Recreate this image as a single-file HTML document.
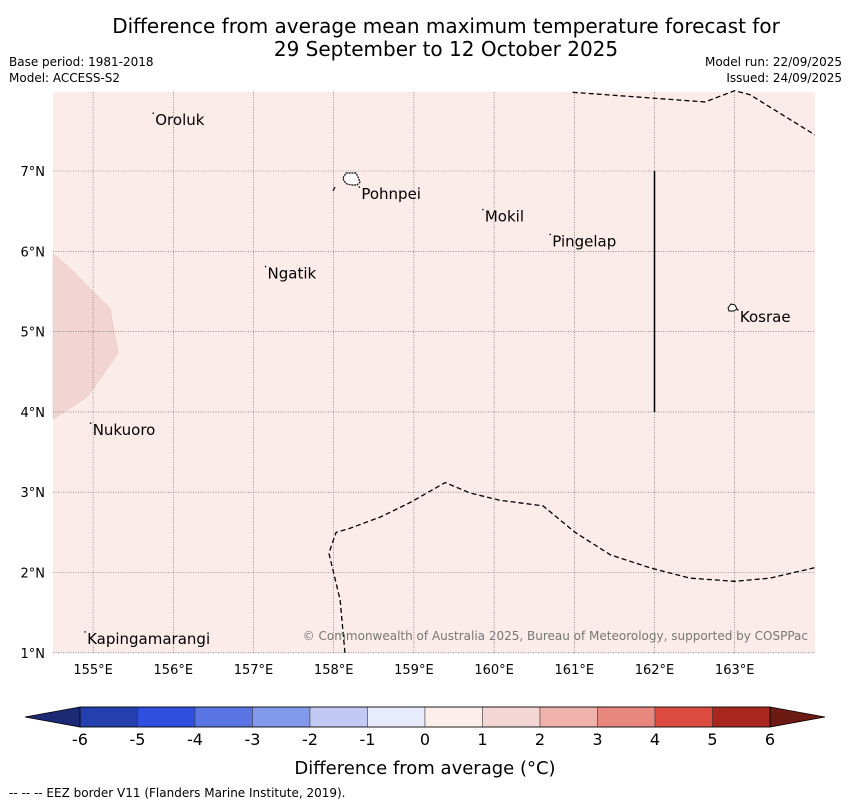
<!DOCTYPE html>
<html><head><meta charset="utf-8"><style>
body{margin:0;background:#fff;font-family:"Liberation Sans","DejaVu Sans",sans-serif}
svg text{font-family:"DejaVu Sans","Liberation Sans",sans-serif}
</style></head><body>
<svg id="s" width="850" height="804" xmlns="http://www.w3.org/2000/svg">
<text x="446" y="33" font-size="20" text-anchor="middle">Difference from average mean maximum temperature forecast for</text>
<text x="446" y="56" font-size="20" text-anchor="middle">29 September to 12 October 2025</text>
<text x="9" y="66" font-size="12">Base period: 1981-2018</text>
<text x="9" y="82" font-size="12">Model: ACCESS-S2</text>
<text x="842" y="66" font-size="12" text-anchor="end">Model run: 22/09/2025</text>
<text x="842" y="82" font-size="12" text-anchor="end">Issued: 24/09/2025</text>
<g id="map"></g>
<g id="cbar"></g>
<text x="425" y="774" font-size="18" text-anchor="middle">Difference from average (°C)</text>
<text x="9" y="797" font-size="12">--  --  -- EEZ border V11 (Flanders Marine Institute, 2019).</text>
</svg>
<script>
const lonTicks=[155,156,157,158,159,160,161,162,163];
const latTicks=[1,2,3,4,5,6,7];
const levels=[-6,-5,-4,-3,-2,-1,0,1,2,3,4,5,6];
const levelColors=['#2440ae','#2f4fdf','#5a74e3','#8399eb','#c2c9f3','#e8ebfb','#fdeeec','#f4d6d4','#efb2ac','#e8877e','#dc4a40','#a82820'];
const islandNames=['Oroluk','Pohnpei','Mokil','Pingelap','Ngatik','Kosrae','Nukuoro','Kapingamarangi'];
const islandLon=[155.75,158.32,159.86,160.7,157.15,163.04,154.97,154.9];
const islandLat=[7.72,6.8,6.52,6.21,5.81,5.27,3.86,1.26];
const eezTopLon=[160.98,162.63,163.0,163.19,164.0];
const eezTopLat=[7.98,7.86,8.0,7.95,7.45];
const eezBotLon=[158.14,158.08,157.94,158.03,158.2,158.58,158.95,159.39,159.7,160.07,160.61,161.01,161.45,161.94,162.44,163.0,163.44,164.0];
const eezBotLat=[1.0,1.66,2.24,2.5,2.55,2.69,2.87,3.12,2.99,2.9,2.83,2.5,2.22,2.06,1.93,1.89,1.93,2.06];
const anomLon=[154.5,154.69,155.21,155.31,154.93,154.5];
const anomLat=[5.97,5.81,5.29,4.73,4.19,3.91];
const NS='http://www.w3.org/2000/svg';
const X=lon=>53+(lon-154.5)*80.2, Y=lat=>171+(7-lat)*80.3;
function mk(p,t,a){const e=document.createElementNS(NS,t);for(const k in a)e.setAttribute(k,a[k]);p.appendChild(e);return e;}
const map=document.getElementById('map');
let e=mk(map,'rect',{x:53,y:92,width:762,height:561,fill:'#fbebe9'});


e=mk(map,'polygon',{points:anomLon.map((l,i)=>X(l)+','+Y(anomLat[i])).join(' '),fill:'#f2d5d3',stroke:'#e3c0bd','stroke-width':0.5});


lonTicks.forEach(l=>{const x=X(l);
 e=mk(map,'line',{x1:x,x2:x,y1:92,y2:653,stroke:'#555','stroke-width':0.6,'stroke-dasharray':'1,1.5'});
 
 
 e=mk(map,'text',{x:x,y:674,'font-size':13,'text-anchor':'middle'});e.textContent=l+'°E';
 
 });
latTicks.forEach(l=>{const y=Y(l);
 e=mk(map,'line',{x1:53,x2:815,y1:y,y2:y,stroke:'#555','stroke-width':0.6,'stroke-dasharray':'1,1.5'});
 
 
 e=mk(map,'text',{x:45,y:y+5,'font-size':13,'text-anchor':'end'});e.textContent=l+'°N';
 
 });
[[eezTopLon,eezTopLat],[eezBotLon,eezBotLat]].forEach(([lo,la])=>{
 e=mk(map,'polyline',{points:lo.map((l,i)=>X(l)+','+Y(la[i])).join(' '),fill:'none',stroke:'#000','stroke-width':1.3,'stroke-dasharray':'5,3'});
 
 });
e=mk(map,'line',{x1:X(162),x2:X(162),y1:Y(7),y2:Y(4),stroke:'#000','stroke-width':1.5});


e=mk(map,'path',{d:'M343,178 l3,-5 l5,0 l5,0 l2,4 l2,5 l-3,3 l-5,0 l-5,-1 l-3,-3 z',fill:'#fff',stroke:'#000','stroke-width':1.2,'stroke-dasharray':'2,0.8'});


e=mk(map,'line',{x1:333,y1:191,x2:335,y2:187,stroke:'#000','stroke-width':1.2});


e=mk(map,'path',{d:'M728,308 l3,-4 l4,1 l2,4 l-3,2 l-5,0 z',fill:'#fff',stroke:'#000','stroke-width':1});


islandNames.forEach((n,i)=>{const x=X(islandLon[i]),y=Y(islandLat[i]);
 e=mk(map,'text',{x:x+2,y:y+12,'font-size':15});e.textContent=n;
 
 
 e=mk(map,'circle',{cx:x,cy:y,r:0.8,fill:'#000'});
 
 });
e=mk(map,'text',{x:808,y:640,'font-size':12,'text-anchor':'end',fill:'#777'});e.textContent='© Commonwealth of Australia 2025, Bureau of Meteorology, supported by COSPPac';


const cb=document.getElementById('cbar');
const CX=v=>80+(v+6)*(690/12), cy0=707, cy1=727;
e=mk(cb,'polygon',{points:`${CX(-6)},${cy0} 25,717 ${CX(-6)},${cy1}`,fill:'#1c2a75',stroke:'#000','stroke-width':0.8});


e=mk(cb,'polygon',{points:`${CX(6)},${cy0} 825,717 ${CX(6)},${cy1}`,fill:'#6e1a14',stroke:'#000','stroke-width':0.8});


levelColors.forEach((c,i)=>{
 e=mk(cb,'rect',{x:CX(levels[i]),y:cy0,width:CX(levels[i+1])-CX(levels[i]),height:cy1-cy0,fill:c,stroke:'#333','stroke-width':0.5});
 
 });
e=mk(cb,'rect',{x:CX(-6),y:cy0,width:CX(6)-CX(-6),height:cy1-cy0,fill:'none',stroke:'#000','stroke-width':0.8});


levels.forEach(v=>{
 e=mk(cb,'text',{x:CX(v),y:745,'font-size':16,'text-anchor':'middle'});e.textContent=String(v);
 
 });
</script>
</body></html>
